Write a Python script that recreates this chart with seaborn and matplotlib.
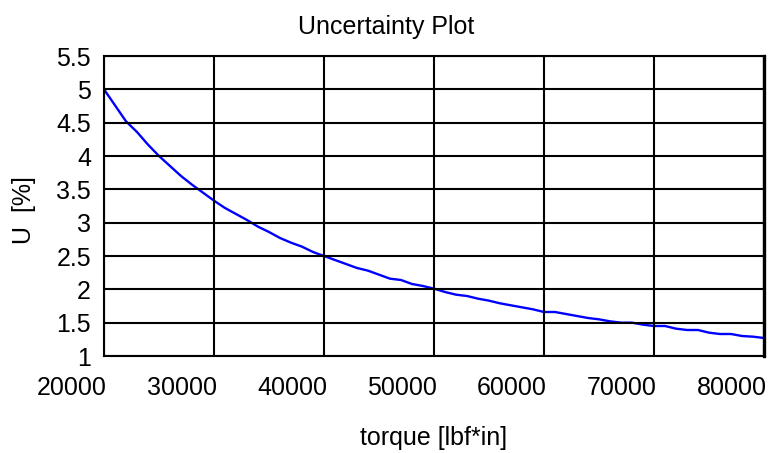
import matplotlib
matplotlib.use("Agg")
import matplotlib.pyplot as plt
import matplotlib.transforms as mtransforms
import pandas as pd
import seaborn as sns


torque = [
    20000, 21000, 22000, 23000, 24000, 25000, 26000, 27000, 28000, 29000,
    30000, 31000, 32000, 33000, 34000, 35000, 36000, 37000, 38000, 39000,
    40000, 41000, 42000, 43000, 44000, 45000, 46000, 47000, 48000, 49000,
    50000, 51000, 52000, 53000, 54000, 55000, 56000, 57000, 58000, 59000,
    60000, 61000, 62000, 63000, 64000, 65000, 66000, 67000, 68000, 69000,
    70000, 71000, 72000, 73000, 74000, 75000, 76000, 77000, 78000, 79000,
    80000,
]
uncertainty = [
    5.00, 4.76, 4.52, 4.36, 4.17, 4.00, 3.85, 3.70, 3.57, 3.45,
    3.33, 3.22, 3.13, 3.04, 2.94, 2.86, 2.77, 2.70, 2.64, 2.56,
    2.50, 2.44, 2.38, 2.32, 2.28, 2.22, 2.16, 2.14, 2.08, 2.05,
    2.01, 1.96, 1.92, 1.90, 1.86, 1.83, 1.79, 1.76, 1.73, 1.70,
    1.66, 1.66, 1.63, 1.60, 1.57, 1.55, 1.52, 1.50, 1.50, 1.47,
    1.45, 1.45, 1.41, 1.39, 1.39, 1.35, 1.33, 1.33, 1.30, 1.29,
    1.27,
]
x_ticks = [20000, 30000, 40000, 50000, 60000, 70000, 80000]
y_ticks = [1, 1.5, 2, 2.5, 3, 3.5, 4, 4.5, 5, 5.5]
y_tick_labels = ["1", "1.5", "2", "2.5", "3", "3.5", "4", "4.5", "5", "5.5"]

df = pd.DataFrame({"torque": torque, "U": uncertainty})

sns.set_theme(style="white")
plt.rcParams["font.family"] = ["Liberation Sans", "DejaVu Sans"]
plt.rcParams["font.size"] = 18

fig = plt.figure(figsize=(7.72, 4.53), dpi=100)
ax = fig.add_axes([104 / 772, 1 - 356 / 453, 660 / 772, 300 / 453])

sns.lineplot(data=df, x="torque", y="U", color="#0000ff", linewidth=1.7, ax=ax)

ax.set_xlim(20000, 80000)
ax.set_ylim(1, 5.5)
ax.set_xticks(x_ticks)
ax.set_xticklabels([str(t) for t in x_ticks])
ax.set_yticks(y_ticks)
ax.set_yticklabels(y_tick_labels)
ax.grid(True, color="black", linewidth=1.5)
ax.set_axisbelow(False)

for side, spine in ax.spines.items():
    spine.set_color("black")
    spine.set_linewidth(1.5)
ax.spines["right"].set_linewidth(2.4)

ax.tick_params(axis="both", length=0, labelsize=18, colors="black")
ax.tick_params(axis="x", pad=14.5)
ax.tick_params(axis="y", pad=9.4)

# x tick labels sit to the left of their gridline
shift = mtransforms.ScaledTranslation(3 / 100, 0, fig.dpi_scale_trans)
for label in ax.get_xticklabels():
    label.set_horizontalalignment("right")
    label.set_transform(label.get_transform() + shift)

ax.set_xlabel("torque [lbf*in]", fontsize=18, color="black")
ax.xaxis.set_label_coords(0.5, -0.235)
ax.set_ylabel("")
fig.text(24 / 772, 1 - 210 / 453, "U  [%]", rotation=90, ha="center", va="center",
         fontsize=18, color="black")
fig.text(0.5, 1 - 34 / 453, "Uncertainty Plot", ha="center", va="baseline",
         fontsize=18, color="black")

fig.savefig("out.png", dpi=100)
plt.close(fig)
